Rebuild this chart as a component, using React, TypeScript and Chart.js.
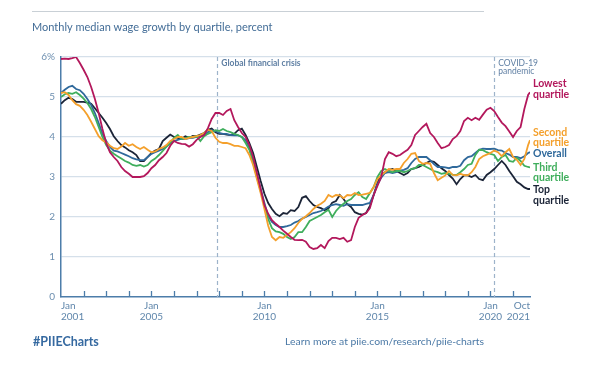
import React, { useEffect, useRef } from "react";
import { Chart, registerables } from "chart.js";

Chart.register(...registerables);

// x positions: month index from Jan 2001 (0) to Oct 2021 (249), every second month
const months: number[] = Array.from({ length: 125 }, (_, i) => i * 2).concat([249]);

const lowestQuartile = [
  5.95, 5.96, 5.95, 5.97, 6.0, 5.85, 5.68, 5.5, 5.25, 4.95,
  4.6, 4.2, 3.85, 3.62, 3.5, 3.4, 3.25, 3.15, 3.08, 3.0,
  3.0, 3.0, 3.02, 3.1, 3.22, 3.3, 3.42, 3.5, 3.6, 3.78,
  3.9, 3.85, 3.83, 3.82, 3.76, 3.82, 3.93, 4.0, 4.05, 4.22,
  4.45, 4.6, 4.6, 4.55, 4.65, 4.7, 4.42, 4.25, 4.1, 4.0,
  3.8, 3.5, 3.1, 2.7, 2.3, 2.08, 1.92, 1.83, 1.75, 1.66,
  1.58, 1.5, 1.43, 1.42, 1.43, 1.38, 1.25, 1.2, 1.22, 1.3,
  1.22, 1.4, 1.48, 1.48, 1.45, 1.48, 1.38, 1.42, 1.75, 1.98,
  2.05, 2.1, 2.22, 2.55, 2.78, 3.0, 3.45, 3.62, 3.58, 3.52,
  3.55, 3.62, 3.68, 3.8, 4.05, 4.15, 4.25, 4.33, 4.1, 4.0,
  3.85, 3.72, 3.75, 3.8, 3.95, 4.02, 4.15, 4.4, 4.48, 4.42,
  4.48, 4.43, 4.56, 4.68, 4.73, 4.65, 4.5, 4.36, 4.27, 4.14,
  4.0, 4.15, 4.25, 4.7, 5.05,
  5.12,
];

const secondQuartile = [
  5.1, 5.12, 5.05, 4.92, 4.82, 4.78, 4.68, 4.55, 4.38, 4.2,
  4.02, 3.92, 3.86, 3.78, 3.72, 3.7, 3.76, 3.85, 3.78, 3.82,
  3.75, 3.7, 3.75, 3.68, 3.62, 3.64, 3.7, 3.74, 3.8, 3.9,
  3.95, 4.0, 4.0, 3.95, 3.98, 4.0, 4.02, 4.05, 4.1, 4.18,
  4.15, 3.98, 3.88, 3.85, 3.85, 3.82, 3.78, 3.78, 3.75, 3.72,
  3.55, 3.3, 2.95, 2.6, 2.2, 1.78, 1.5, 1.42, 1.5, 1.48,
  1.55, 1.62, 1.72, 1.85, 1.95, 2.02, 2.1, 2.2, 2.28, 2.33,
  2.4, 2.55, 2.5, 2.55, 2.54, 2.47, 2.55, 2.54, 2.6, 2.55,
  2.56, 2.58, 2.6, 2.75, 2.95, 3.04, 3.12, 3.2, 3.18, 3.2,
  3.2, 3.35, 3.45, 3.58, 3.6, 3.4, 3.33, 3.35, 3.33, 3.1,
  2.92, 2.98, 3.04, 3.15, 3.05, 3.04, 3.08, 3.05, 3.04, 3.12,
  3.25, 3.45, 3.52, 3.56, 3.6, 3.66, 3.62, 3.52, 3.62, 3.7,
  3.5, 3.43, 3.3, 3.45, 3.8,
  3.92,
];

const overall = [
  5.1, 5.18, 5.25, 5.28, 5.2, 5.17, 5.08, 4.95, 4.8, 4.6,
  4.35, 4.08, 3.9, 3.75, 3.66, 3.64, 3.6, 3.56, 3.52, 3.47,
  3.44, 3.42, 3.42, 3.5, 3.58, 3.62, 3.66, 3.7, 3.76, 3.84,
  3.9, 3.93, 3.96, 3.95, 3.97, 3.98, 4.0, 4.03, 4.06, 4.12,
  4.17, 4.15, 4.1, 4.08, 4.08, 4.05, 4.04, 4.04, 4.0, 3.92,
  3.72, 3.4, 3.05, 2.7, 2.35, 2.02, 1.88, 1.8, 1.75, 1.75,
  1.77, 1.8, 1.86, 1.9, 1.96, 2.0, 2.05, 2.1, 2.12, 2.15,
  2.2, 2.26, 2.3, 2.32, 2.3, 2.28, 2.32, 2.3, 2.3, 2.3,
  2.3, 2.33, 2.35, 2.55, 2.82, 2.98, 3.1, 3.12, 3.1, 3.12,
  3.16, 3.18, 3.22, 3.35, 3.45, 3.5, 3.5, 3.5, 3.42, 3.32,
  3.25, 3.25, 3.24, 3.22, 3.25, 3.25, 3.28, 3.42, 3.5, 3.52,
  3.6, 3.68, 3.71, 3.7, 3.7, 3.71, 3.67, 3.66, 3.6, 3.56,
  3.5, 3.5, 3.47, 3.52, 3.6,
  3.62,
];

const thirdQuartile = [
  5.0, 5.07, 5.1, 5.08, 5.12, 5.05, 4.96, 4.85, 4.7, 4.5,
  4.25, 4.0, 3.8, 3.66, 3.58, 3.52, 3.46, 3.4, 3.36, 3.3,
  3.28, 3.3, 3.26, 3.3, 3.4, 3.46, 3.55, 3.65, 3.76, 3.85,
  3.98, 4.05, 3.95, 3.97, 4.0, 4.0, 4.02, 3.9, 4.02, 4.08,
  4.12, 4.17, 4.15, 4.2, 4.15, 4.12, 4.08, 4.05, 4.0, 3.85,
  3.68, 3.35, 3.0, 2.65, 2.3, 1.95, 1.72, 1.64, 1.62, 1.58,
  1.5, 1.45, 1.5, 1.62, 1.62, 1.75, 1.9, 1.95, 2.0, 2.05,
  2.12, 2.18, 2.0, 2.15, 2.25, 2.33, 2.4, 2.45, 2.55, 2.62,
  2.5, 2.45, 2.6, 2.75, 3.0, 3.15, 3.2, 3.15, 3.12, 3.15,
  3.15, 3.12, 3.15, 3.2, 3.22, 3.3, 3.3, 3.25, 3.2, 3.15,
  3.12, 3.08, 3.1, 3.08, 3.06, 3.05, 3.12, 3.2, 3.3, 3.33,
  3.55, 3.68, 3.67, 3.62, 3.58, 3.55, 3.4, 3.5, 3.55, 3.4,
  3.38, 3.48, 3.4, 3.28, 3.25,
  3.24,
];

const topQuartile = [
  4.83, 4.92, 4.98, 4.95, 4.88, 4.88, 4.88, 4.86, 4.83, 4.72,
  4.6, 4.48, 4.35, 4.2, 4.02, 3.9, 3.8, 3.74, 3.67, 3.62,
  3.55, 3.4, 3.4, 3.5, 3.6, 3.66, 3.7, 3.9, 3.98, 4.06,
  4.0, 3.98, 3.95, 4.02, 3.98, 4.03, 4.02, 4.06, 4.1, 4.18,
  4.21, 4.12, 4.08, 4.08, 4.06, 4.05, 4.08, 4.17, 4.21, 4.05,
  3.85, 3.6, 3.25, 2.9, 2.58, 2.35, 2.2, 2.08, 2.02, 2.1,
  2.08, 2.17, 2.15, 2.25, 2.48, 2.52, 2.4, 2.3, 2.25, 2.22,
  2.17, 2.22, 2.36, 2.4, 2.55, 2.45, 2.32, 2.25, 2.12, 2.08,
  2.06, 2.1, 2.28, 2.55, 2.85, 3.05, 3.12, 3.18, 3.2, 3.15,
  3.1, 3.05, 3.1, 3.2, 3.22, 3.25, 3.3, 3.35, 3.4, 3.38,
  3.3, 3.22, 3.15, 3.05, 2.96, 2.82, 2.95, 3.04, 3.04, 3.0,
  3.05, 2.95, 2.92, 3.05, 3.12, 3.2, 3.3, 3.4, 3.3, 3.15,
  3.02, 2.88, 2.82, 2.74, 2.7,
  2.7,
];

const seriesNames = ["Lowest quartile", "Second quartile", "Third quartile", "Overall", "Top quartile"];
const seriesColors = ["#b3185c", "#f4a02c", "#3fae5c", "#2f699b", "#1b2437"];
const seriesValues = [lowestQuartile, secondQuartile, thirdQuartile, overall, topQuartile];

// end-of-line labels: lines of text, and the y value at which each line sits
const endLabels = [
  { lines: ["Lowest", "quartile"], at: [5.33, 5.07], color: "#b3185c" },
  { lines: ["Second", "quartile"], at: [4.1, 3.86], color: "#f4a02c" },
  { lines: ["Overall"], at: [3.58], color: "#2f699b" },
  { lines: ["Third", "quartile"], at: [3.23, 2.98], color: "#3fae5c" },
  { lines: ["Top", "quartile"], at: [2.68, 2.42], color: "#1b2437" },
];

const xLabels = [
  { m: 0, top: "Jan", bottom: "2001", align: "left" },
  { m: 48, top: "Jan", bottom: "2005", align: "center" },
  { m: 108, top: "Jan", bottom: "2010", align: "center" },
  { m: 168, top: "Jan", bottom: "2015", align: "center" },
  { m: 228, top: "Jan", bottom: "2020", align: "center" },
  { m: 249, top: "Oct", bottom: "2021", align: "right" },
];
const yearTickMonths = Array.from({ length: 20 }, (_, i) => 12 + i * 12);
const yTickValues = [0, 1, 2, 3, 4, 5, 6];

const events = [
  { m: 83, lines: ["Global financial crisis"], bold: true },
  { m: 230, lines: ["COVID-19", "pandemic"], bold: false },
];

const TITLE = "Monthly median wage growth by quartile, percent";
const FONT = "Lato, 'Open Sans', sans-serif";
const AXIS_BLUE = "#4d7daa";
const TEXT_BLUE = "#5f86ab";

const decor = {
  id: "decor",
  beforeDatasetsDraw(chart: any) {
    const { ctx, chartArea, scales } = chart;
    const x = scales.x;
    ctx.save();
    // event dashed lines
    ctx.strokeStyle = "#9db3ca";
    ctx.lineWidth = 1.2;
    ctx.setLineDash([4, 3]);
    for (const ev of events) {
      const px = Math.round(x.getPixelForValue(ev.m)) + 0.5;
      ctx.beginPath();
      ctx.moveTo(px, chartArea.top);
      ctx.lineTo(px, chartArea.bottom);
      ctx.stroke();
    }
    ctx.setLineDash([]);
    // inner tick marks on the x axis
    ctx.strokeStyle = AXIS_BLUE;
    ctx.lineWidth = 1.3;
    for (const m of yearTickMonths) {
      const px = Math.round(x.getPixelForValue(m)) + 0.5;
      ctx.beginPath();
      ctx.moveTo(px, chartArea.bottom - 6);
      ctx.lineTo(px, chartArea.bottom);
      ctx.stroke();
    }
    ctx.restore();
  },
  afterDraw(chart: any) {
    const { ctx, chartArea, scales } = chart;
    const x = scales.x;
    const y = scales.y;
    ctx.save();
    // top rule
    ctx.strokeStyle = "#c9d0d6";
    ctx.lineWidth = 1;
    ctx.beginPath();
    ctx.moveTo(32, 11.5);
    ctx.lineTo(484, 11.5);
    ctx.stroke();
    // title
    ctx.fillStyle = "#436d97";
    ctx.font = `11px ${FONT}`;
    ctx.textAlign = "left";
    ctx.textBaseline = "middle";
    ctx.fillText(TITLE, 32, 27);
    // y tick labels
    ctx.fillStyle = "#6d8fb0";
    ctx.font = `10px ${FONT}`;
    ctx.textAlign = "right";
    for (const v of yTickValues) {
      ctx.fillText(v === 6 ? "6%" : String(v), 55, y.getPixelForValue(v));
    }
    // x tick labels
    ctx.fillStyle = TEXT_BLUE;
    ctx.font = `10px ${FONT}`;
    for (const l of xLabels) {
      ctx.textAlign = l.align as CanvasTextAlign;
      const px = x.getPixelForValue(l.m);
      ctx.fillText(l.top, px, chartArea.bottom + 9);
      ctx.fillText(l.bottom, px, chartArea.bottom + 20);
    }
    // event labels
    ctx.textAlign = "left";
    for (const ev of events) {
      ctx.font = `${ev.bold ? "bold " : ""}8.5px ${FONT}`;
      ctx.fillStyle = "#5f7fa3";
      const px = x.getPixelForValue(ev.m) + 4;
      ev.lines.forEach((t, i) => ctx.fillText(t, px, chartArea.top + 6 + i * 8.5));
    }
    // end labels
    ctx.font = `bold 10.5px ${FONT}`;
    for (const lab of endLabels) {
      ctx.fillStyle = lab.color;
      lab.lines.forEach((t, i) => ctx.fillText(t, chartArea.right + 3, y.getPixelForValue(lab.at[i])));
    }
    // footer
    ctx.fillStyle = "#3569a0";
    ctx.font = `bold 12.5px ${FONT}`;
    ctx.textAlign = "left";
    ctx.fillText("#PIIECharts", 33, 342);
    ctx.fillStyle = "#4b79a6";
    ctx.font = `10.4px ${FONT}`;
    ctx.textAlign = "right";
    ctx.fillText("Learn more at piie.com/research/piie-charts", 484, 342);
    ctx.restore();
  },
};

export default function App() {
  const ref = useRef<HTMLCanvasElement | null>(null);
  useEffect(() => {
    if (!ref.current) return;
    const chart = new Chart(ref.current, {
      type: "line",
      data: {
        datasets: seriesNames.map((name, i) => ({
          label: name,
          data: months.map((m, j) => ({ x: m, y: seriesValues[i][j] })),
          borderColor: seriesColors[i],
          backgroundColor: seriesColors[i],
          borderWidth: 1.8,
          pointRadius: 0,
          tension: 0,
          fill: false,
        })),
      },
      options: {
        responsive: false,
        animation: false,
        devicePixelRatio: 1,
        layout: { padding: { left: 61, right: 70, top: 57, bottom: 75 } },
        plugins: { legend: { display: false }, tooltip: { enabled: false } },
        scales: {
          x: {
            type: "linear",
            min: 0,
            max: 249,
            grid: { display: false, drawTicks: false },
            border: { display: true, color: AXIS_BLUE, width: 1.5 },
            ticks: { display: false },
          },
          y: {
            min: 0,
            max: 6,
            ticks: { display: false, stepSize: 1 },
            grid: {
              drawTicks: false,
              color: (c: any) => (c.tick && c.tick.value === 0 ? "rgba(0,0,0,0)" : "#d5e0ea"),
              lineWidth: 1.3,
            },
            border: { display: true, color: AXIS_BLUE, width: 1.5 },
          },
        },
      },
      plugins: [decor],
    });
    return () => chart.destroy();
  }, []);
  return (
    <div style={{ position: "fixed", left: 0, top: 0, width: 600, height: 372, background: "#fff" }}>
      <canvas ref={ref} width={600} height={372} style={{ display: "block" }} />
    </div>
  );
}
